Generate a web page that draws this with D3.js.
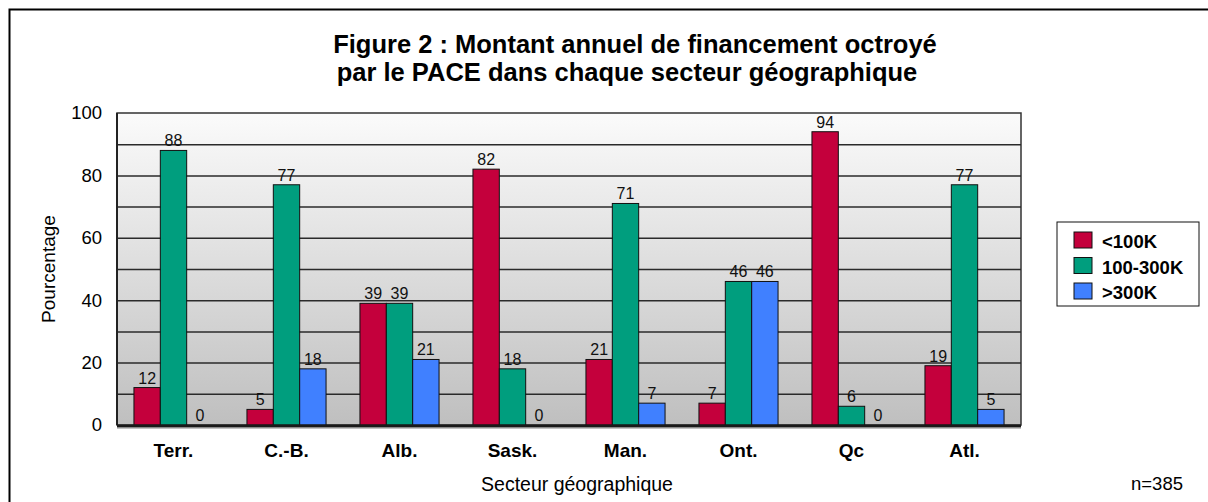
<!DOCTYPE html>
<html>
<head>
<meta charset="utf-8">
<script src="https://cdn.jsdelivr.net/npm/d3@7"></script>
<style>
body { margin: 0; background: #fff; }
svg text { font-family: "Liberation Sans", Arial, sans-serif; }
</style>
</head>
<body>
<svg id="drawing_region"></svg>
<script>
const categories = ["Terr.", "C.-B.", "Alb.", "Sask.", "Man.", "Ont.", "Qc", "Atl."];
const series_names = ["<100K", "100-300K", ">300K"];
const low_values = [12, 5, 39, 82, 21, 7, 94, 19];
const mid_values = [88, 77, 39, 18, 71, 46, 6, 77];
const high_values = [0, 18, 21, 0, 7, 46, 0, 5];
const y_ticks = [0, 20, 40, 60, 80, 100];
const colors = ["#c4003c", "#009e7e", "#4080ff"];

class BarChart {

    constructor( config ) {
        this.config = config;
        this.data = categories.map( (c, i) => ({
            cat: c,
            values: [low_values[i], mid_values[i], high_values[i]]
        }));
        this.init();
    }

    init() {
        let self = this;

        self.svg = d3.select( self.config.parent )
            .attr('width', self.config.width)
            .attr('height', self.config.height);

        self.chart = self.svg.append('g')
            .attr('transform', `translate(${self.config.margin.left}, ${self.config.margin.top})`);

        self.inner_width = self.config.width - self.config.margin.left - self.config.margin.right;
        self.inner_height = self.config.height - self.config.margin.top - self.config.margin.bottom;

        self.xscale = d3.scaleBand()
            .domain( categories )
            .range( [0, self.inner_width] )
            .paddingInner( 0.3 )
            .paddingOuter( 0.15 );

        self.subscale = d3.scaleBand()
            .domain( d3.range(series_names.length) )
            .range( [0, self.xscale.bandwidth()] );

        self.yscale = d3.scaleLinear()
            .domain( [0, 100] )
            .range( [self.inner_height, 0] );

        self.render();
    }

    render() {
        let self = this;
        const w = self.inner_width, h = self.inner_height;

        // outer frame (only top and left show in the picture)
        self.svg.append('path')
            .attr('d', `M9.5,${self.config.height + 5} V9.5 H${self.config.width + 5}`)
            .attr('fill', 'none')
            .attr('stroke', '#000')
            .attr('stroke-width', 2);

        // plot background gradient
        const grad = self.svg.append('defs').append('linearGradient')
            .attr('id', 'bg').attr('x1', 0).attr('y1', 0).attr('x2', 0).attr('y2', 1);
        grad.append('stop').attr('offset', '0%').attr('stop-color', '#fbfbfb');
        grad.append('stop').attr('offset', '100%').attr('stop-color', '#bfbfbf');

        self.chart.append('rect')
            .attr('width', w).attr('height', h)
            .attr('fill', 'url(#bg)')
            .attr('stroke', '#333')
            .attr('stroke-width', 1.5);

        // gridlines every 10
        self.chart.append('g')
            .call( d3.axisLeft(self.yscale).tickValues(d3.range(10, 100, 10)).tickSize(-w).tickFormat('') )
            .call( g => g.select('.domain').remove() )
            .call( g => g.selectAll('line').attr('stroke', '#2a2a2a').attr('stroke-width', 1.5) );

        // y axis labels
        self.chart.append('g')
            .call( d3.axisLeft(self.yscale).tickValues(y_ticks).tickSize(0).tickPadding(15) )
            .call( g => g.select('.domain').remove() )
            .call( g => g.selectAll('text').attr('font-size', 18.5).attr('fill', '#000')
                .attr('font-family', '"Liberation Sans", Arial, sans-serif') );

        // bars
        const groups = self.chart.selectAll('.group')
            .data( self.data )
            .join('g')
            .attr('transform', d => `translate(${self.xscale(d.cat)},0)`);

        groups.selectAll('rect')
            .data( d => d.values.map( (v, i) => ({v, i}) ) )
            .join('rect')
            .attr('x', d => self.subscale(d.i))
            .attr('y', d => self.yscale(d.v))
            .attr('width', self.subscale.bandwidth())
            .attr('height', d => h - self.yscale(d.v))
            .attr('fill', d => colors[d.i])
            .attr('stroke', d => d.v > 0 ? '#111' : 'none')
            .attr('stroke-width', 1);

        groups.selectAll('text')
            .data( d => d.values.map( (v, i) => ({v, i}) ) )
            .join('text')
            .attr('x', d => self.subscale(d.i) + self.subscale.bandwidth() / 2)
            .attr('y', d => self.yscale(d.v) - 4)
            .attr('text-anchor', 'middle')
            .attr('font-size', 16)
            .attr('fill', '#111')
            .text( d => d.v );

        // left axis line and floor
        self.chart.append('line')
            .attr('x1', 0).attr('x2', 0).attr('y1', 0).attr('y2', h)
            .attr('stroke', '#222').attr('stroke-width', 2);
        self.chart.append('line')
            .attr('x1', 0).attr('x2', w).attr('y1', h + 1).attr('y2', h + 1)
            .attr('stroke', '#1a1a1a').attr('stroke-width', 3);
        self.chart.append('line')
            .attr('x1', 0).attr('x2', w).attr('y1', h + 3).attr('y2', h + 3)
            .attr('stroke', '#888').attr('stroke-width', 1);

        // x axis labels
        self.chart.append('g')
            .attr('transform', `translate(0, ${h})`)
            .call( d3.axisBottom(self.xscale).tickSize(0).tickPadding(19) )
            .call( g => g.select('.domain').remove() )
            .call( g => g.selectAll('text').attr('font-size', 19).attr('font-weight', 'bold').attr('fill', '#000')
                .attr('font-family', '"Liberation Sans", Arial, sans-serif') );

        // axis titles
        self.svg.append('text')
            .attr('x', 577).attr('y', 491)
            .attr('text-anchor', 'middle')
            .attr('font-size', 19.5)
            .text('Secteur géographique');

        self.chart.append('text')
            .attr('transform', `translate(${-62}, ${h / 2}) rotate(-90)`)
            .attr('text-anchor', 'middle')
            .attr('font-size', 19)
            .text('Pourcentage');

        self.svg.append('text')
            .attr('x', 1183).attr('y', 490)
            .attr('text-anchor', 'end')
            .attr('font-size', 18.5)
            .text('n=385');

        // title
        const title = self.svg.append('text')
            .attr('text-anchor', 'middle')
            .attr('font-size', 25.5)
            .attr('font-weight', 'bold');
        title.append('tspan').attr('x', 635).attr('y', 53)
            .text('Figure 2 : Montant annuel de financement octroyé');
        title.append('tspan').attr('x', 627).attr('y', 81)
            .text('par le PACE dans chaque secteur géographique');

        // legend
        const legend = self.svg.append('g')
            .attr('transform', 'translate(1057, 222)');
        legend.append('rect')
            .attr('width', 142).attr('height', 84)
            .attr('fill', '#fff')
            .attr('stroke', '#111').attr('stroke-width', 1);
        const items = legend.selectAll('.item')
            .data( series_names )
            .join('g')
            .attr('transform', (d, i) => `translate(17, ${10 + i * 25.5})`);
        items.append('rect')
            .attr('width', 18).attr('height', 16)
            .attr('fill', (d, i) => colors[i])
            .attr('stroke', '#111');
        items.append('text')
            .attr('x', 28).attr('y', 16)
            .attr('font-size', 18.5)
            .attr('font-weight', 'bold')
            .text( d => d );
    }
}

const config = {
    parent: '#drawing_region',
    width: 1208,
    height: 502,
    margin: {top:113, right:187, bottom:77, left:117}
};

const bar_chart = new BarChart( config );
</script>
</body>
</html>
